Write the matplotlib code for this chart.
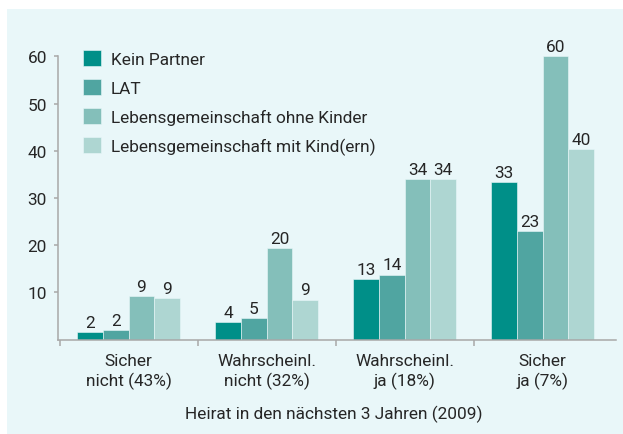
import matplotlib
matplotlib.use("Agg")
import matplotlib.pyplot as plt
import numpy as np

categories = ["Sicher\nnicht (43%)", "Wahrscheinl.\nnicht (32%)", "Wahrscheinl.\nja (18%)", "Sicher\nja (7%)"]
series_names = ["Kein Partner", "LAT", "Lebensgemeinschaft ohne Kinder", "Lebensgemeinschaft mit Kind(ern)"]
kein_partner = [1.7, 3.7, 12.9, 33.3]
lat = [2.1, 4.5, 13.8, 23.1]
ohne_kinder = [9.2, 19.5, 34.0, 60.0]
mit_kindern = [8.9, 8.5, 34.0, 40.4]
kein_partner_lbl = ["2", "4", "13", "33"]
lat_lbl = ["2", "5", "14", "23"]
ohne_kinder_lbl = ["9", "20", "34", "60"]
mit_kindern_lbl = ["9", "9", "34", "40"]
y_ticks = [10, 20, 30, 40, 50, 60]
x_title = "Heirat in den nächsten 3 Jahren (2009)"

colors = ["#008f88", "#50a5a1", "#84bfba", "#aed6d2"]
bg = "#e9f7f9"
txt = "#262626"
axis_col = "#a8a8a8"
fs = 12.4

plt.rcParams['font.family'] = ['Roboto', 'DejaVu Sans']

fig = plt.figure(figsize=(6.23, 4.35), dpi=100)
fig.patch.set_facecolor("white")
fig.patches.append(plt.Rectangle((7/623, 0), 1, 1 - 10/435, transform=fig.transFigure,
                                 facecolor=bg, edgecolor="none", zorder=-10))
ax = fig.add_axes([58/623, 1 - 340.7/435, (615.7 - 58)/623, (340.7 - 57.3)/435])
ax.set_facecolor("none")
ax.set_zorder(5)

values = [kein_partner, lat, ohne_kinder, mit_kindern]
labels = [kein_partner_lbl, lat_lbl, ohne_kinder_lbl, mit_kindern_lbl]
x = np.arange(len(categories))
w = 0.186
for i, (vals, lbls) in enumerate(zip(values, labels)):
    pos = x + (i - 1.5) * w
    ax.bar(pos, vals, width=w, color=colors[i], edgecolor=bg, linewidth=0.4,
           label=series_names[i], zorder=2)
    for p, v, l in zip(pos, vals, lbls):
        ax.annotate(l, (p, v), xytext=(0, 1.5), textcoords="offset points",
                    ha="center", va="bottom", fontsize=fs, color=txt, annotation_clip=False)

ax.set_xlim(-0.512, 3.53)
ax.set_ylim(0, 60)
ax.set_yticks(y_ticks)
ax.set_yticklabels([str(t) for t in y_ticks])
ax.set_xticks([-0.5, 0.5, 1.5, 2.5])
ax.set_xticklabels([])
for c, lab in zip(x, categories):
    ax.annotate(lab, (c, 0), xytext=(0, -9.5), textcoords="offset points",
                ha="center", va="top", fontsize=fs, color=txt, linespacing=1.3,
                annotation_clip=False)
fig.text((185 + 483) / 2 / 623, 1 - 414 / 435, x_title, ha="center", va="center",
         fontsize=fs, color=txt)

for s in ["top", "right"]:
    ax.spines[s].set_visible(False)
for s in ["left", "bottom"]:
    ax.spines[s].set_color(axis_col)
    ax.spines[s].set_linewidth(1.1)
ax.tick_params(axis="y", length=3, width=1.1, color=axis_col, labelsize=fs,
               labelcolor=txt, pad=5)
ax.tick_params(axis="x", length=4, width=1.1, color=axis_col)

leg = ax.legend(loc="upper left", bbox_to_anchor=(0.033, 1.045), frameon=False,
                fontsize=fs, handlelength=1.05, handleheight=1.05, labelspacing=0.7,
                handletextpad=0.55, borderaxespad=0)
for t in leg.get_texts():
    t.set_color(txt)

fig.savefig("out.png", dpi=100)
